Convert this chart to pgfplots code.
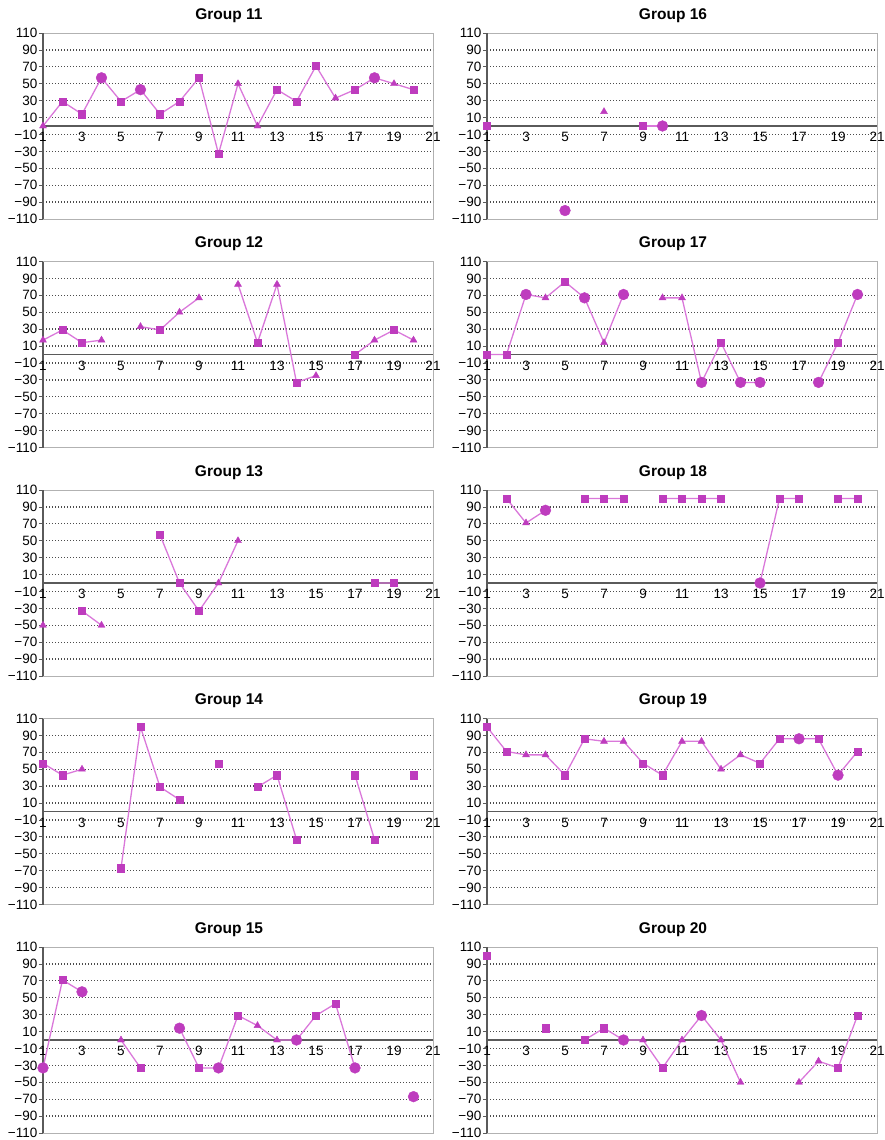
\documentclass[border=0pt]{standalone}
\usepackage{pgfplots}
\pgfplotsset{compat=1.18}
\usepackage{pgfplotstable}
\usepgfplotslibrary{groupplots}
\usetikzlibrary{calc}
\usepackage{fontspec}
\setmainfont{Liberation Sans}
\definecolor{markc}{RGB}{190,60,190}
\definecolor{linec}{RGB}{218,120,218}
\definecolor{axc}{RGB}{90,90,90}

\pgfplotstableread{
x y m
1 0 t
2 29 s
3 14 s
4 57 c
5 29 s
6 43 c
7 14 s
8 29 s
9 57 s
10 -33 s
11 50 t
12 0 t
13 43 s
14 29 s
15 71 s
16 33 t
17 43 s
18 57 c
19 50 t
20 43 s
}\gA
\pgfplotstableread{
x y m
1 17 t
2 29 s
3 14 s
4 17 t
5 nan s
6 33 t
7 29 s
8 50 t
9 67 t
10 nan s
11 83 t
12 14 s
13 83 t
14 -33 s
15 -25 t
16 nan s
17 0 s
18 17 t
19 29 s
20 17 t
}\gB
\pgfplotstableread{
x y m
1 -50 t
2 nan s
3 -33 s
4 -50 t
5 nan s
6 nan s
7 57 s
8 0 s
9 -33 s
10 0 t
11 50 t
12 nan s
17 nan s
18 0 s
19 0 s
20 nan s
}\gC
\pgfplotstableread{
x y m
1 57 s
2 43 s
3 50 t
4 nan s
5 -67 s
6 100 s
7 29 s
8 14 s
9 nan s
10 57 s
11 nan s
12 29 s
13 43 s
14 -33 s
15 nan s
16 nan s
17 43 s
18 -33 s
19 nan s
20 43 s
}\gD
\pgfplotstableread{
x y m
1 -33 c
2 71 s
3 57 c
4 nan s
5 0 t
6 -33 s
7 nan s
8 14 c
9 -33 s
10 -33 c
11 29 s
12 17 t
13 0 t
14 0 c
15 29 s
16 43 s
17 -33 c
18 nan s
19 nan s
20 -67 c
}\gE
\pgfplotstableread{
x y m
1 0 s
2 nan s
4 nan s
5 -100 c
6 nan s
7 17 t
8 nan s
9 0 s
10 0 c
11 nan s
}\gF
\pgfplotstableread{
x y m
1 0 s
2 0 s
3 71 c
4 67 t
5 86 s
6 67 c
7 14 t
8 71 c
9 nan s
10 67 t
11 67 t
12 -33 c
13 14 s
14 -33 c
15 -33 c
16 nan s
17 nan s
18 -33 c
19 14 s
20 71 c
}\gG
\pgfplotstableread{
x y m
1 nan s
2 100 s
3 71 t
4 86 c
5 nan s
6 100 s
7 100 s
8 100 s
9 nan s
10 100 s
11 100 s
12 100 s
13 100 s
14 nan s
15 0 c
16 100 s
17 100 s
18 nan s
19 100 s
20 100 s
}\gH
\pgfplotstableread{
x y m
1 100 s
2 71 s
3 67 t
4 67 t
5 43 s
6 86 s
7 83 t
8 83 t
9 57 s
10 43 s
11 83 t
12 83 t
13 50 t
14 67 t
15 57 s
16 86 s
17 86 c
18 86 s
19 43 c
20 71 s
}\gI
\pgfplotstableread{
x y m
1 100 s
2 nan s
3 nan s
4 14 s
5 nan s
6 0 s
7 14 s
8 0 c
9 0 t
10 -33 s
11 0 t
12 29 c
13 0 t
14 -50 t
15 nan s
16 nan s
17 -50 t
18 -25 t
19 -33 s
20 29 s
}\gJ

\pgfplotsset{
  panel/.style={
    width=390pt, height=186pt, scale only axis,
    xmin=1, xmax=21, ymin=-110, ymax=110,
    clip=false,
    axis x line=middle, axis y line=left,
    axis line style={-, draw=axc, line width=1.2pt},
    axis background/.style={draw=black!30, line width=0.8pt},
    hide obscured x ticks=false,
    xtick={1,3,...,21},
    xticklabels={1,3,5,7,9,11,13,15,17,19,21},
    xtick style={draw=none},
    xticklabel style={anchor=north, yshift=1pt},
    ytick={-90,-70,...,90},
    yticklabels={−90,−70,−50,−30,−10,10,30,50,70,90},
    extra y ticks={-110,110},
    extra y tick labels={−110,110},
    extra y tick style={grid=none},
    ytick style={draw=axc, line width=0.8pt},
    tick align=outside, major tick length=4pt,
    ymajorgrids,
    major grid style={draw=black!70, line width=1.3pt, dash pattern=on 1.4pt off 1.6pt},
    tick label style={font=\fontsize{13.5}{13.5}\selectfont},
    yticklabel style={inner sep=1.5pt},
    title style={font=\bfseries\fontsize{15.5}{15.5}\selectfont, at={(0.5,1)}, anchor=south, yshift=1pt, xshift=-9pt},
  },
  ln/.style={draw=linec, line width=1.3pt, mark=none, unbounded coords=jump},
  mk/.style={scatter, only marks, scatter src=explicit symbolic,
    scatter/classes={
      s={mark=square*, mark size=3.6pt, draw=markc, fill=markc},
      t={mark=triangle*, mark size=4pt, draw=markc, fill=markc},
      c={mark=*, mark size=5.4pt, draw=markc, fill=markc}}},
}

\begin{document}
\begin{tikzpicture}
\begin{groupplot}[group style={group size=2 by 5, horizontal sep=54pt, vertical sep=42.5pt}, panel]
\nextgroupplot[title={Group 11}]
\addplot[ln] table[x=x,y=y] {\gA};
\addplot[mk] table[x=x,y=y,meta=m] {\gA};
\nextgroupplot[title={Group 16}]
\addplot[ln] table[x=x,y=y] {\gF};
\addplot[mk] table[x=x,y=y,meta=m] {\gF};
\nextgroupplot[title={Group 12}]
\addplot[ln] table[x=x,y=y] {\gB};
\addplot[mk] table[x=x,y=y,meta=m] {\gB};
\nextgroupplot[title={Group 17}]
\addplot[ln] table[x=x,y=y] {\gG};
\addplot[mk] table[x=x,y=y,meta=m] {\gG};
\nextgroupplot[title={Group 13}]
\addplot[ln] table[x=x,y=y] {\gC};
\addplot[mk] table[x=x,y=y,meta=m] {\gC};
\nextgroupplot[title={Group 18}]
\addplot[ln] table[x=x,y=y] {\gH};
\addplot[mk] table[x=x,y=y,meta=m] {\gH};
\nextgroupplot[title={Group 14}]
\addplot[ln] table[x=x,y=y] {\gD};
\addplot[mk] table[x=x,y=y,meta=m] {\gD};
\nextgroupplot[title={Group 19}]
\addplot[ln] table[x=x,y=y] {\gI};
\addplot[mk] table[x=x,y=y,meta=m] {\gI};
\nextgroupplot[title={Group 15}]
\addplot[ln] table[x=x,y=y] {\gE};
\addplot[mk] table[x=x,y=y,meta=m] {\gE};
\nextgroupplot[title={Group 20}]
\addplot[ln] table[x=x,y=y] {\gJ};
\addplot[mk] table[x=x,y=y,meta=m] {\gJ};
\end{groupplot}
\pgfresetboundingbox
\path[use as bounding box] ($(group c1r1.north west)+(-43pt,33pt)$) rectangle ($(group c2r5.south east)+(7pt,-7pt)$);
\end{tikzpicture}
\end{document}
